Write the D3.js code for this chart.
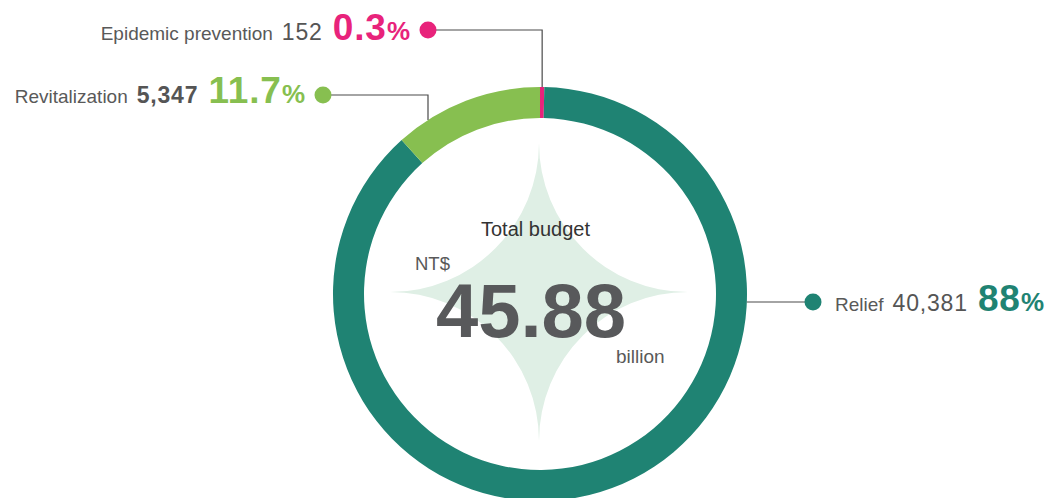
<!DOCTYPE html>
<html>
<head>
<meta charset="utf-8">
<script src="https://cdn.jsdelivr.net/npm/d3@7"></script>
<style>
  html, body { margin: 0; padding: 0; background: #ffffff; }
  svg { display: block; }
  text { font-family: "Liberation Sans", Arial, sans-serif; }
</style>
</head>
<body>
<svg id="chart" width="1048" height="498"></svg>
<script>
// Budget breakdown (NT$ 100 million units)
const categories = ["Epidemic prevention", "Relief", "Revitalization"];
const amounts = [152, 40381, 5347];
const amountLabels = ["152", "40,381", "5,347"];
const shareLabels = ["0.3", "88", "11.7"];
const colors = ["#e8237b", "#1f8373", "#87bf50"];
const totalTitle = "Total budget";
const totalCurrency = "NT$";
const totalValue = "45.88";
const totalUnit = "billion";

const W = 1048, H = 498;
const cx = 540, cy = 294;
const outerR = 207, innerR = 176;

const svg = d3.select("#chart");

// Decorative four-point star behind the total (concave quarter-circle sides)
const starCx = 539, starCy = 292, s = 149;
svg.append("path")
  .attr("d",
    `M${starCx},${starCy - s}` +
    ` A${s},${s} 0 0 0 ${starCx + s},${starCy}` +
    ` A${s},${s} 0 0 0 ${starCx},${starCy + s}` +
    ` A${s},${s} 0 0 0 ${starCx - s},${starCy}` +
    ` A${s},${s} 0 0 0 ${starCx},${starCy - s}Z`)
  .attr("fill", "#dfefe5");

// Donut ring
const pie = d3.pie().sort(null).value(d => d)(amounts);
const arc = d3.arc().innerRadius(innerR).outerRadius(outerR);
const g = svg.append("g").attr("transform", `translate(${cx},${cy})`);
g.selectAll("path.seg")
  .data(pie)
  .join("path")
  .attr("class", "seg")
  .attr("d", arc)
  .attr("fill", (d, i) => colors[i]);

// Leader lines and dots
const lineColor = "#4a4a4a";
const leaders = [
  // Epidemic prevention: from the top of its slice up, then left to the dot
  { dot: [428, 30], path: p => { const a = (pie[0].startAngle + pie[0].endAngle) / 2;
      const x = cx + outerR * Math.sin(a), y = cy - outerR * Math.cos(a);
      return `M${p[0]},${p[1]}H${x}V${y}`; } },
  // Relief: horizontal from the right edge of the ring
  { dot: [813, 302], path: p => {
      const dy = p[1] - cy; const x = cx + Math.sqrt(outerR * outerR - dy * dy);
      return `M${x},${p[1]}H${p[0]}`; } },
  // Revitalization: horizontal, then down into the ring
  { dot: [323, 95], path: p => { const x = 428; const dx = x - cx;
      const y = cy - Math.sqrt(outerR * outerR - dx * dx);
      return `M${p[0]},${p[1]}H${x}V${y}`; } }
];

leaders.forEach((L, i) => {
  svg.append("path").attr("d", L.path(L.dot))
    .attr("fill", "none").attr("stroke", lineColor).attr("stroke-width", 1.2);
  svg.append("circle").attr("cx", L.dot[0]).attr("cy", L.dot[1]).attr("r", 8.5)
    .attr("fill", colors[i]);
});

// Labels: name, amount, share + %
function drawLabel(i, anchorX, baseY, side) {
  const grp = svg.append("g");
  const parts = [
    { t: categories[i], size: 19, weight: 400, fill: "#595959", gap: 9 },
    { t: amountLabels[i], size: 23, weight: i === 2 ? 700 : 400, fill: "#555555", gap: 11, ls: 0.8 },
    { t: shareLabels[i], size: 37, weight: 700, fill: colors[i], gap: 1, ls: 0.8 },
    { t: "%", size: 26, weight: 700, fill: colors[i], gap: 0 }
  ];
  const nodes = parts.map(p => {
    const t = grp.append("text")
      .attr("y", baseY)
      .attr("font-size", p.size)
      .attr("font-weight", p.weight)
      .attr("fill", p.fill)
      .attr("letter-spacing", p.ls || 0)
      .text(p.t);
    return { t, w: t.node().getComputedTextLength() - (p.ls || 0), gap: p.gap };
  });
  const total = nodes.reduce((s, n, k) => s + n.w + (k < nodes.length - 1 ? n.gap : 0), 0);
  let x = side === "left" ? anchorX - total : anchorX;
  nodes.forEach(n => { n.t.attr("x", x); x += n.w + n.gap; });
}

drawLabel(0, 410, 40, "left");
drawLabel(1, 835, 311, "right");
drawLabel(2, 305, 103, "left");

// Center text
svg.append("text").attr("x", 535.5).attr("y", 236).attr("text-anchor", "middle")
  .attr("font-size", 20).attr("fill", "#333333").text(totalTitle);
svg.append("text").attr("x", 415).attr("y", 270)
  .attr("font-size", 18.5).attr("fill", "#595959").text(totalCurrency);
svg.append("text").attr("x", 531).attr("y", 337).attr("text-anchor", "middle")
  .attr("font-size", 76).attr("font-weight", 700).attr("fill", "#58595b").text(totalValue);
svg.append("text").attr("x", 616).attr("y", 363)
  .attr("font-size", 19).attr("fill", "#595959").text(totalUnit);
</script>
</body>
</html>
